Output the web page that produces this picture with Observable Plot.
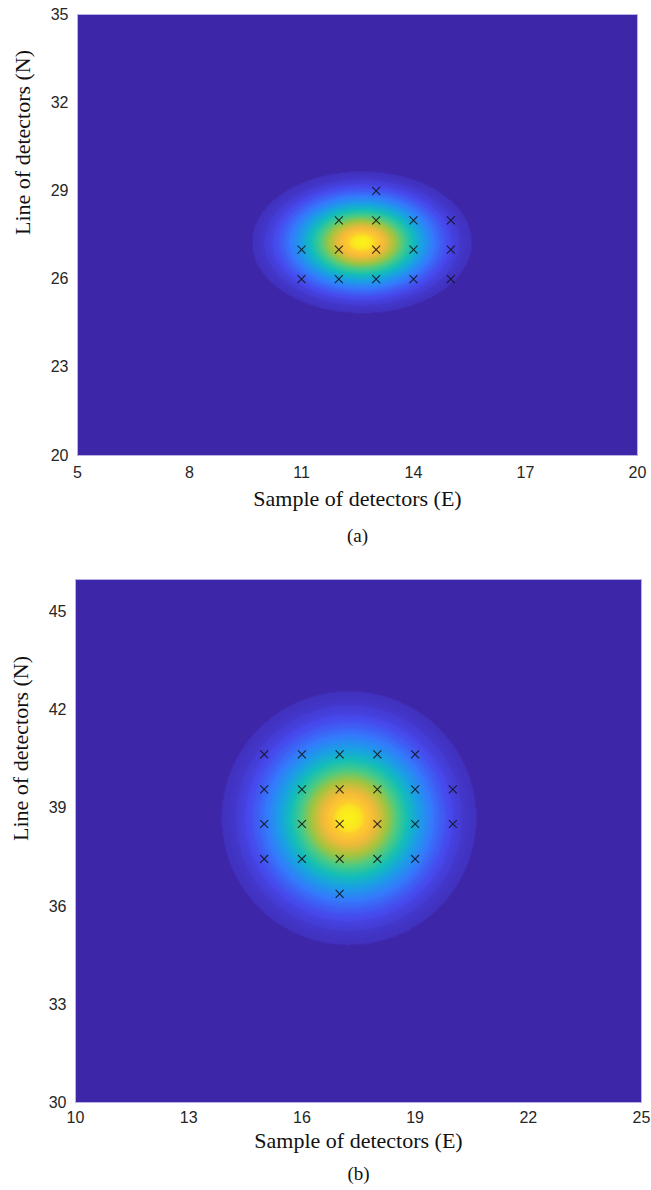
<!DOCTYPE html>
<html><head><meta charset="utf-8">
<script src="https://cdn.jsdelivr.net/npm/d3@7"></script>
<script src="https://cdn.jsdelivr.net/npm/@observablehq/plot@0.6"></script>
<style>
body{margin:0;background:#fff;}
#chart svg{display:block;}
</style></head><body><div id="chart"></div>
<script>
// ---- data ----
const xTicksA = [5, 8, 11, 14, 17, 20];
const yTicksA = [20, 23, 26, 29, 32, 35];
const xTicksB = [10, 13, 16, 19, 22, 25];
const yTicksB = [30, 33, 36, 39, 42, 45];

const detectorsAx = [13, 12, 13, 14, 15, 11, 12, 13, 14, 15, 11, 12, 13, 14, 15];
const detectorsAy = [29, 28, 28, 28, 28, 27, 27, 27, 27, 27, 26, 26, 26, 26, 26];

const detectorsBx = [15, 16, 17, 18, 19, 15, 16, 17, 18, 19, 20, 15, 16, 17, 18, 19, 20, 15, 16, 17, 18, 19, 17];
const detectorsBy = [40.65, 40.65, 40.65, 40.65, 40.65, 39.58, 39.58, 39.58, 39.58, 39.58, 39.58,
                     38.52, 38.52, 38.52, 38.52, 38.52, 38.52, 37.45, 37.45, 37.45, 37.45, 37.45, 36.38];

// Gaussian source estimate: centre (E, N) and spread (E, N)
const peakA = [12.62, 27.25];
const spreadA = [1.16, 0.95];
const peakB = [17.25, 38.7];
const spreadB = [1.33, 1.53];
const contourLevels = 25;   // filled-contour bands (lowest band = background)
const bandStrength = 0.3;   // how visible the band steps are

// parula-like colour stops
const parulaStops = [0, 0.125, 0.25, 0.375, 0.5, 0.625, 0.75, 0.875, 0.94, 1];
const parulaColors = ["#3e26a8", "#4748ec", "#347afd", "#1aa0e4", "#13beb8", "#48cb86", "#a5c43d", "#f5b93a", "#fdca2e", "#f9fb15"];

const parula = d3.scaleLinear().domain(parulaStops).range(parulaColors).interpolate(d3.interpolateRgb).clamp(true);
const parulaInterp = (t) => parula(t);

function panel(o) {
  const g = (x, y) => Math.exp(-(((x - o.peak[0]) / o.spread[0]) ** 2 + ((y - o.peak[1]) / o.spread[1]) ** 2) / 2);
  const f = (x, y) => {
    const v = g(x, y);
    const q = Math.floor(v * contourLevels) / contourLevels;
    return q === 0 ? 0 : (1 - bandStrength) * v + bandStrength * q;
  };
  let field;
  if (Plot.raster) {
    field = Plot.raster({fill: f, x1: o.xDomain[0], x2: o.xDomain[1], y1: o.yDomain[0], y2: o.yDomain[1], pixelSize: 1});
  } else {
    const step = 0.05, cells = [];
    for (let x = o.xDomain[0]; x < o.xDomain[1]; x += step)
      for (let y = o.yDomain[0]; y < o.yDomain[1]; y += step)
        cells.push({x1: x, x2: x + step, y1: y, y2: y + step, v: f(x + step / 2, y + step / 2)});
    field = Plot.rect(cells, {x1: "x1", x2: "x2", y1: "y1", y2: "y2", fill: "v"});
  }
  const pts = o.dx.map((x, i) => ({x, y: o.dy[i]}));
  return Plot.plot({
    width: 651,
    height: o.height,
    marginLeft: o.ml, marginRight: o.mr, marginTop: o.mt, marginBottom: o.mb,
    style: {background: "white", overflow: "visible"},
    x: {domain: o.xDomain},
    y: {domain: o.yDomain},
    color: {type: "linear", domain: [0, 1], interpolate: parulaInterp},
    marks: [
      field,
      Plot.frame({stroke: "#b9b2e4", strokeWidth: 1}),
      Plot.dot(pts, {x: "x", y: "y", symbol: "times", r: 3.7, stroke: "#111", strokeWidth: 1.1, strokeOpacity: 0.85}),
      Plot.axisX(o.xTicks, {tickSize: 0, tickPadding: o.padX, fontSize: 16, fontFamily: "Liberation Sans, Arial, sans-serif", fill: "#262626", label: null}),
      Plot.axisY(o.yTicks, {tickSize: 0, tickPadding: 9, fontSize: 16, fontFamily: "Liberation Sans, Arial, sans-serif", fill: "#262626", label: null}),
      Plot.text(["Sample of detectors (E)"], {frameAnchor: "bottom", dy: o.titleDy, fontSize: 22, fontFamily: "Liberation Serif, Times New Roman, serif", fill: "#111"}),
      Plot.text(["Line of detectors (N)"], {frameAnchor: "left", dx: o.ytitleDx, rotate: -90, fontSize: 22, fontFamily: "Liberation Serif, Times New Roman, serif", fill: "#111"}),
      Plot.text([o.caption], {frameAnchor: "bottom", dy: o.capDy, fontSize: 19, fontFamily: "Liberation Serif, Times New Roman, serif", fill: "#111"})
    ]
  });
}

const chart = document.getElementById("chart");
chart.append(panel({
  xDomain: [5, 20], yDomain: [20, 35], xTicks: xTicksA, yTicks: yTicksA,
  dx: detectorsAx, dy: detectorsAy, peak: peakA, spread: spreadA,
  height: 560, ml: 77, mr: 14, mt: 14, mb: 105, padX: 11,
  titleDy: 50, ytitleDx: -55, capDy: 86, caption: "(a)"
}));
chart.append(panel({
  xDomain: [10, 25], yDomain: [30, 46], xTicks: xTicksB, yTicks: yTicksB,
  dx: detectorsBx, dy: detectorsBy, peak: peakB, spread: spreadB,
  height: 630, ml: 75, mr: 10, mt: 19, mb: 88, padX: 9,
  titleDy: 45, ytitleDx: -55, capDy: 77, caption: "(b)"
}));
</script></body></html>
